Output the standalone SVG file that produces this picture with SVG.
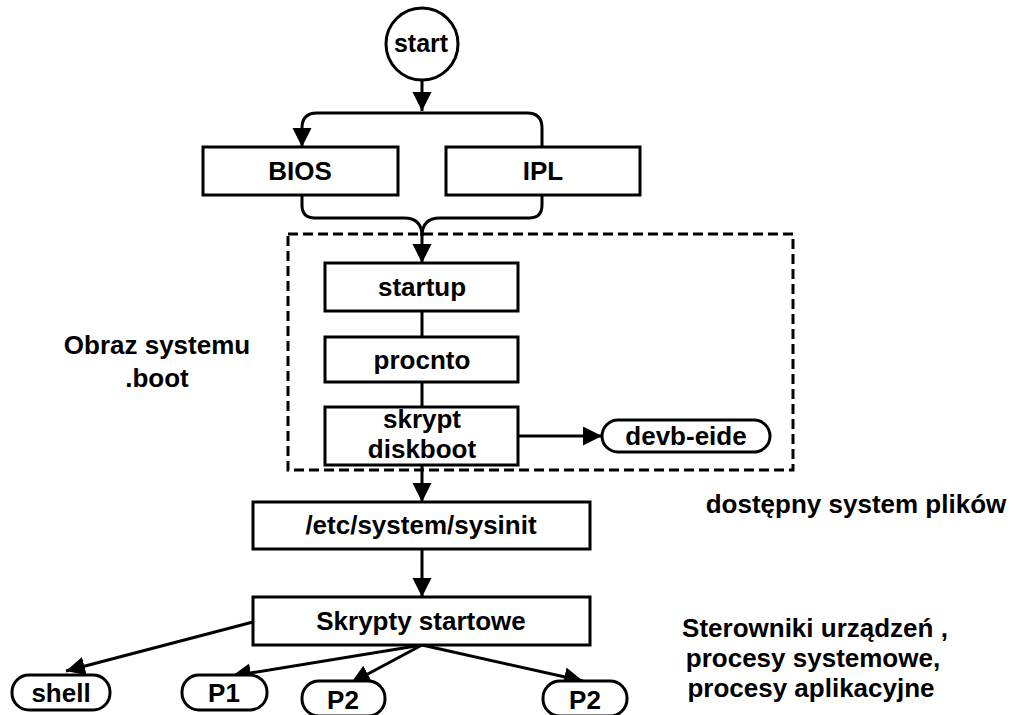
<svg xmlns="http://www.w3.org/2000/svg" width="1015" height="715" viewBox="0 0 1015 715">
  <defs>
    <marker id="arrow" markerUnits="userSpaceOnUse" markerWidth="20" markerHeight="20" refX="19" refY="9.5" orient="auto">
      <path d="M0,0 L19,9.5 L0,19 Z" fill="#000"/>
    </marker>
  </defs>
  <style>
    text { font-family: "Liberation Sans", Arial, sans-serif; font-weight: bold; font-size: 26px; fill: #000; text-anchor: middle; }
    .box { fill: #fff; stroke: #000; stroke-width: 3; }
    .edge { fill: none; stroke: #000; stroke-width: 3; }
    .frame { fill: none; stroke: #000; stroke-width: 3; stroke-dasharray: 10 5; }
  </style>
  <rect width="1015" height="715" fill="#fff"/>

  <!-- boot image boundary -->
  <rect class="frame" x="288" y="234" width="505" height="236"/>

  <g id="connectors">
    <line class="edge" x1="422" y1="80" x2="422" y2="111" marker-end="url(#arrow)"/>
    <path class="edge" d="M422,113 H317 Q302,113 302,128 V147" marker-end="url(#arrow)"/>
    <path class="edge" d="M422,113 H527 Q542,113 542,128 V147"/>
    <path class="edge" d="M302,195 V205 Q302,218 315,218 H404 Q422,218 422,236"/>
    <path class="edge" d="M542,195 V205 Q542,218 529,218 H440 Q422,218 422,236"/>
    <line class="edge" x1="422" y1="234" x2="422" y2="263" marker-end="url(#arrow)"/>
    <line class="edge" x1="422" y1="311" x2="422" y2="337"/>
    <line class="edge" x1="422" y1="382" x2="422" y2="407"/>
    <line class="edge" x1="518" y1="436" x2="602" y2="436" marker-end="url(#arrow)"/>
    <line class="edge" x1="422" y1="465" x2="422" y2="502" marker-end="url(#arrow)"/>
    <line class="edge" x1="422" y1="549" x2="422" y2="597" marker-end="url(#arrow)"/>
    <line class="edge" x1="253" y1="622" x2="66" y2="671" marker-end="url(#arrow)"/>
    <line class="edge" x1="422" y1="645" x2="232" y2="676" marker-end="url(#arrow)"/>
    <line class="edge" x1="422" y1="645" x2="351" y2="683" marker-end="url(#arrow)"/>
    <line class="edge" x1="422" y1="645" x2="583" y2="681" marker-end="url(#arrow)"/>
  </g>

  <g id="start">
    <circle class="box" cx="422" cy="44" r="36"/>
    <text x="421" y="52" style="font-size:25px">start</text>
  </g>
  <g id="bios">
    <rect class="box" x="203" y="147" width="195" height="48"/>
    <text x="300" y="180">BIOS</text>
  </g>
  <g id="ipl">
    <rect class="box" x="446" y="147" width="194" height="48"/>
    <text x="543" y="180">IPL</text>
  </g>
  <g id="startup">
    <rect class="box" x="325" y="263" width="193" height="48"/>
    <text x="422" y="296">startup</text>
  </g>
  <g id="procnto">
    <rect class="box" x="325" y="337" width="193" height="45"/>
    <text x="422" y="369">procnto</text>
  </g>
  <g id="diskboot">
    <rect class="box" x="325" y="407" width="193" height="58"/>
    <text x="422" y="428">skrypt</text>
    <text x="422" y="458">diskboot</text>
  </g>
  <g id="devb-eide">
    <rect class="box" x="602" y="420" width="168" height="32" rx="16" ry="16"/>
    <text x="686" y="445">devb-eide</text>
  </g>
  <g id="sysinit">
    <rect class="box" x="253" y="502" width="337" height="47"/>
    <text x="421" y="534">/etc/system/sysinit</text>
  </g>
  <g id="startup-scripts">
    <rect class="box" x="253" y="597" width="337" height="48"/>
    <text x="421" y="630">Skrypty startowe</text>
  </g>
  <g id="shell">
    <rect class="box" x="12" y="675" width="98" height="35" rx="17" ry="17"/>
    <text x="61" y="702">shell</text>
  </g>
  <g id="p1">
    <rect class="box" x="182" y="675" width="85" height="35" rx="17" ry="17"/>
    <text x="224" y="702">P1</text>
  </g>
  <g id="p2-a">
    <rect class="box" x="302" y="681" width="83" height="35" rx="17" ry="17"/>
    <text x="343" y="709">P2</text>
  </g>
  <g id="p2-b">
    <rect class="box" x="543" y="681" width="84" height="35" rx="17" ry="17"/>
    <text x="585" y="709">P2</text>
  </g>

  <g id="labels">
    <text x="157" y="354">Obraz systemu</text>
    <text x="157" y="387">.boot</text>
    <text x="856" y="513">dostępny system plików</text>
    <text x="815" y="637">Sterowniki urządzeń ,</text>
    <text x="813" y="667">procesy systemowe,</text>
    <text x="811" y="697">procesy aplikacyjne</text>
  </g>
</svg>
